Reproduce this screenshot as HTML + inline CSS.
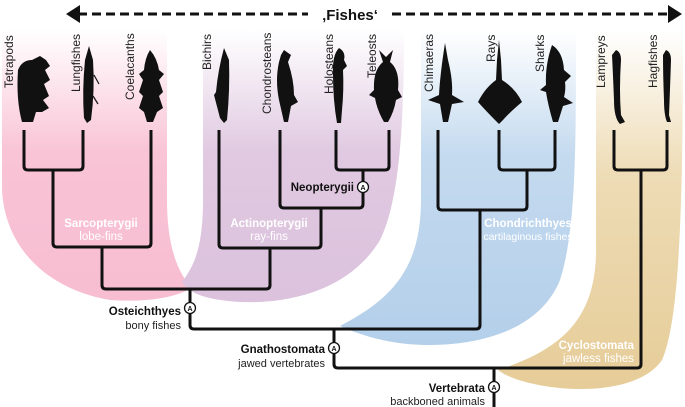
<!DOCTYPE html>
<html><head><meta charset="utf-8"><style>
html,body{margin:0;padding:0;background:#fff;}
svg{display:block;font-family:"Liberation Sans",Arial,sans-serif;}
.sp{font-size:12px;fill:#222;}
.b{font-weight:bold;font-size:11.5px;fill:#111;}
.s{font-size:11px;fill:#222;}
.w{fill:#fff;font-size:11.5px;}
</style></head><body>
<svg width="685" height="407" viewBox="0 0 685 407" xmlns="http://www.w3.org/2000/svg">
<defs>
<linearGradient id="gp" x1="0" y1="0" x2="0" y2="1"><stop offset="0" stop-color="#fff"/><stop offset="0.45" stop-color="#f9c4d6"/><stop offset="1" stop-color="#f7bdd1"/></linearGradient>
<linearGradient id="gu" x1="0" y1="0" x2="0" y2="1"><stop offset="0" stop-color="#fff"/><stop offset="0.45" stop-color="#e0c9e1"/><stop offset="1" stop-color="#dcc2dd"/></linearGradient>
<linearGradient id="gb" x1="0" y1="0" x2="0" y2="1"><stop offset="0" stop-color="#fff"/><stop offset="0.4" stop-color="#c4daef"/><stop offset="1" stop-color="#b4cfea"/></linearGradient>
<linearGradient id="gt" x1="0" y1="0" x2="0" y2="1"><stop offset="0" stop-color="#fff"/><stop offset="0.4" stop-color="#eedcb6"/><stop offset="1" stop-color="#e6cc98"/></linearGradient>
</defs>
<path d="M2 30 L167 30 L167 200 C167 240 175 270 192 288 C170 300 140 302 110 300 C50 290 5 250 2 190 Z" fill="url(#gp)"/>
<path d="M203 30 L404 30 C404 120 400 200 380 240 C350 290 290 304 240 302 C210 300 190 295 182 282 C195 265 203 245 203 200 Z" fill="url(#gu)"/>
<path d="M421 30 L576 30 C576 150 576 230 560 280 C540 330 480 345 430 345 C390 345 360 335 340 326 C390 300 421 270 421 200 Z" fill="url(#gb)"/>
<path d="M596 30 L683 30 C683 200 680 320 662 360 C645 385 600 392 560 388 C530 385 508 378 498 370 C560 350 596 320 596 250 Z" fill="url(#gt)"/>
<line x1="78" y1="14" x2="308" y2="14" stroke="#111" stroke-width="3" stroke-dasharray="9,5"/>
<line x1="392" y1="14" x2="670" y2="14" stroke="#111" stroke-width="3" stroke-dasharray="9,5"/>
<polygon points="66,14 80,5 80,23" fill="#111"/>
<polygon points="682,14 668,5 668,23" fill="#111"/>
<text x="350" y="20" text-anchor="middle" font-size="15" font-weight="bold" fill="#111">‚Fishes‘</text>
<g fill="none" stroke="#111" stroke-width="3" stroke-linejoin="round">
<path d="M24 130 V166 Q24 170 28 170 H79 Q83 170 83 166 V130"/>
<path d="M53 170 V243 Q53 247 57 247 H147 Q151 247 151 243 V130"/>
<path d="M102 247 V285 Q102 289 106 289 H266 Q270 289 270 285 V248"/>
<path d="M219 130 V244 Q219 248 223 248 H317 Q321 248 321 244 V208"/>
<path d="M280 130 V204 Q280 208 284 208 H359 Q363 208 363 204 V170"/>
<path d="M336 130 V166 Q336 170 340 170 H385 Q389 170 389 166 V130"/>
<path d="M190 289 V325 Q190 329 194 329 H476 Q480 329 480 325 V210"/>
<path d="M438 130 V206 Q438 210 442 210 H523 Q527 210 527 206 V170"/>
<path d="M499 130 V166 Q499 170 503 170 H551 Q555 170 555 166 V130"/>
<path d="M334 329 V364 Q334 368 338 368 H637 Q641 368 641 364 V170"/>
<path d="M614 130 V166 Q614 170 618 170 H663 Q667 170 667 166 V130"/>
<path d="M494 368 V407"/>
</g>
<g stroke="#111" stroke-width="1.3" fill="#fff">
<circle cx="363" cy="187" r="5.5"/><circle cx="190" cy="308" r="5.5"/><circle cx="334" cy="348" r="5.5"/><circle cx="494" cy="387" r="5.5"/>
</g>
<g font-size="7" font-weight="bold" text-anchor="middle" fill="#111">
<text x="363" y="190">A</text><text x="190" y="311">A</text><text x="334" y="351">A</text><text x="494" y="390">A</text>
</g>
<text class="b" x="354" y="191" text-anchor="end">Neopterygii</text>
<text class="b" x="181" y="315" text-anchor="end">Osteichthyes</text>
<text class="s" x="181" y="329" text-anchor="end">bony fishes</text>
<text class="b" x="325" y="353" text-anchor="end">Gnathostomata</text>
<text class="s" x="325" y="367" text-anchor="end">jawed vertebrates</text>
<text class="b" x="485" y="392" text-anchor="end">Vertebrata</text>
<text class="s" x="485" y="405" text-anchor="end">backboned animals</text>
<g class="w" text-anchor="middle">
<text x="101" y="227" font-weight="bold">Sarcopterygii</text><text x="101" y="240">lobe-fins</text>
<text x="269" y="227" font-weight="bold">Actinopterygii</text><text x="269" y="240">ray-fins</text>
<text x="528" y="227" font-weight="bold">Chondrichthyes</text><text x="528" y="240" font-size="10.5">cartilaginous fishes</text>
</g>
<g class="w" text-anchor="end">
<text x="634" y="349" font-weight="bold">Cyclostomata</text><text x="634" y="362">jawless fishes</text>
</g>
<g class="sp">
<text transform="translate(13,88) rotate(-90)">Tetrapods</text>
<text transform="translate(80,92) rotate(-90)">Lungfishes</text>
<text transform="translate(134,100) rotate(-90)">Coelacanths</text>
<text transform="translate(211,70) rotate(-90)">Bichirs</text>
<text transform="translate(271,114) rotate(-90)">Chondrosteans</text>
<text transform="translate(333,94) rotate(-90)">Holosteans</text>
<text transform="translate(376,78) rotate(-90)">Teleosts</text>
<text transform="translate(433,92) rotate(-90)">Chimaeras</text>
<text transform="translate(495,62) rotate(-90)">Rays</text>
<text transform="translate(544,72) rotate(-90)">Sharks</text>
<text transform="translate(605,88) rotate(-90)">Lampreys</text>
<text transform="translate(657,88) rotate(-90)">Hagfishes</text>
</g>
<g fill="#111">
<path d="M18 70 Q22 60 32 60 L40 56 L46 60 L50 66 L45 70 L50 80 L44 84 L49 96 L43 100 L49 108 L42 112 L36 112 L33 122 L22 122 Q16 100 18 70 Z"/>
<path d="M89 46 L93 60 Q95 90 91 120 L87 123 L84 118 Q82 90 85 60 Z"/>
<path d="M94 75 L99 84 M93 96 L98 104" stroke="#111" stroke-width="1.2" fill="none"/>
<path d="M150 50 Q157 58 159 70 L164 74 L159 80 L163 92 L159 96 L163 108 L157 112 L153 122 L147 122 L144 112 L139 108 L143 96 L139 92 L143 80 L139 74 L144 70 Q145 58 150 50 Z"/>
<path d="M224 48 L229 60 Q230 90 227 120 L224 123 L220 118 L214 95 L216 92 Q218 70 224 48 Z"/>
<path d="M284 50 L291 55 L288 62 Q294 80 294 95 L298 102 L291 106 L288 122 L284 122 L279 100 Q275 80 279 62 L281 55 Z"/>
<path d="M339 48 Q346 52 344 60 L347 66 L343 70 Q344 90 342 110 L341 123 L337 123 Q333 100 333 75 Q332 55 339 48 Z"/>
<path d="M379 50 L386 57 L393 50 L390 62 Q400 70 398 90 L402 97 L396 100 Q394 112 388 122 L384 122 Q377 110 375 98 L369 95 L374 90 Q373 70 383 62 Z"/>
<path d="M445 43 L448 60 Q453 80 452 95 L464 102 L452 104 L448 122 L443 122 L440 104 L428 100 L439 95 Q440 75 445 43 Z"/>
<path d="M499 40 L501 60 L502 80 Q515 88 522 102 Q510 112 503 120 L499 124 L495 120 Q487 112 478 102 Q485 88 496 80 L497 60 Z"/>
<path d="M552 45 Q563 52 564 70 L571 76 L565 82 Q566 90 564 97 L573 103 L563 106 L558 122 L553 122 Q548 105 546 92 L540 90 L546 85 Q545 65 552 45 Z"/>
<path d="M616 50 Q621 52 621 60 Q619 90 621 115 L625 122 L620 124 Q614 118 614 100 Q613 75 612 55 Z"/>
<path d="M666 50 Q671 52 671 60 Q670 90 669 115 L671 122 L667 122 Q664 115 664 100 Q663 75 663 55 Z"/>
</g>
</svg>
</body></html>
